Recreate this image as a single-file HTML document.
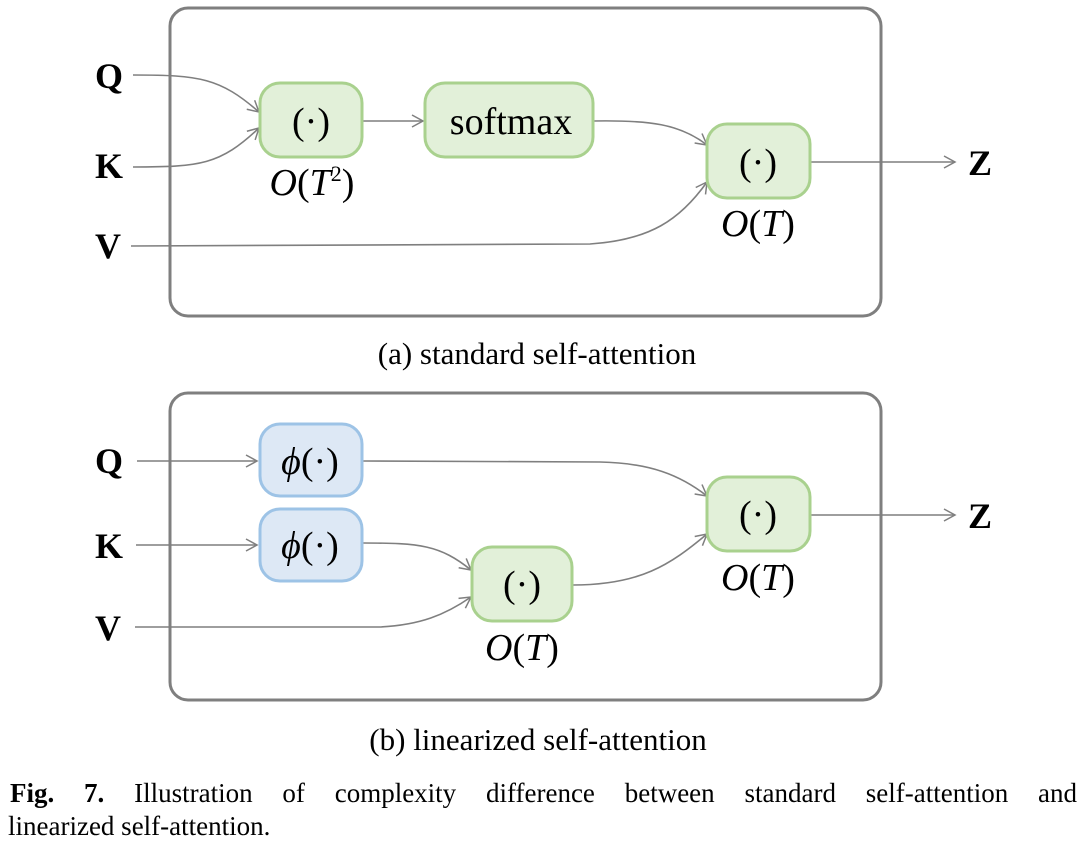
<!DOCTYPE html>
<html><head><meta charset="utf-8"><style>
html,body{margin:0;padding:0;background:#fff;}
svg{display:block;}
text{font-family:"Liberation Serif",serif;fill:#000;}
.cap{position:absolute;left:10px;width:1067px;font-family:"Liberation Serif",serif;font-size:27px;line-height:30px;color:#000;white-space:nowrap;}
.l1{top:778px;text-align:justify;text-align-last:justify;}
.l2{top:811px;left:8px;}
</style></head><body>
<div style="position:relative;width:1081px;height:844px;">
<svg width="1081" height="844" viewBox="0 0 1081 844" xmlns="http://www.w3.org/2000/svg">
<defs>
<marker id="ar" markerWidth="14" markerHeight="14" refX="12" refY="7" orient="auto" markerUnits="userSpaceOnUse">
<path d="M1,1 L12,7 L1,13" fill="none" stroke="#7f7f7f" stroke-width="1.5"/>
</marker>
</defs>
<rect x="170" y="8" width="711" height="308" rx="18" fill="none" stroke="#7f7f7f" stroke-width="3"/>
<g fill="none" stroke="#7f7f7f" stroke-width="1.6">
<path d="M133,75 C200,75 220,78 259,112" marker-end="url(#ar)"/>
<path d="M133,167 C200,167 220,165 259,128" marker-end="url(#ar)"/>
<path d="M363,121 L423,121" marker-end="url(#ar)"/>
<path d="M593,121 C650,120 680,124 707,145" marker-end="url(#ar)"/>
<path d="M131,246 L590,244 C650,240 680,220 707,182" marker-end="url(#ar)"/>
<path d="M811,162 L955,162" marker-end="url(#ar)"/>
</g>
<g stroke="#a9d18e" stroke-width="3" fill="#e2f0d9">
<rect x="260" y="83" width="102" height="74" rx="20"/>
<rect x="425" y="83" width="168" height="74" rx="20"/>
<rect x="707" y="124" width="103" height="74" rx="20"/>
</g>
<g font-size="36" font-weight="bold">
<text x="95" y="88">Q</text><text x="95" y="178">K</text><text x="95" y="258">V</text><text x="968" y="175">Z</text>
</g>
<g font-size="38">
<text x="311" y="134" text-anchor="middle">(·)</text>
<text x="511" y="134" text-anchor="middle">softmax</text>
<text x="758" y="175" text-anchor="middle">(·)</text>
<text x="312" y="195" text-anchor="middle"><tspan font-style="italic">O</tspan>(<tspan font-style="italic">T</tspan><tspan font-size="22" dy="-14">2</tspan><tspan dy="14">)</tspan></text>
<text x="758" y="236" text-anchor="middle"><tspan font-style="italic">O</tspan>(<tspan font-style="italic">T</tspan>)</text>
<text x="537" y="364" text-anchor="middle" font-size="31">(a)  standard self-attention</text>
</g>
<rect x="170" y="393" width="711" height="307" rx="18" fill="none" stroke="#7f7f7f" stroke-width="3"/>
<g fill="none" stroke="#7f7f7f" stroke-width="1.6">
<path d="M137,461 L257,461" marker-end="url(#ar)"/>
<path d="M136,545 L257,545" marker-end="url(#ar)"/>
<path d="M363,461 L600,462 C650,463 680,475 707,496" marker-end="url(#ar)"/>
<path d="M363,543 C420,543 440,545 471,570" marker-end="url(#ar)"/>
<path d="M135,627 L380,627 C420,625 445,615 471,597" marker-end="url(#ar)"/>
<path d="M573,585 C640,585 670,565 707,534" marker-end="url(#ar)"/>
<path d="M811,515 L955,515" marker-end="url(#ar)"/>
</g>
<g stroke="#9dc3e6" stroke-width="3" fill="#dde8f5">
<rect x="260" y="424" width="102" height="72" rx="20"/>
<rect x="260" y="509" width="102" height="72" rx="20"/>
</g>
<g stroke="#a9d18e" stroke-width="3" fill="#e2f0d9">
<rect x="472" y="547" width="100" height="74" rx="20"/>
<rect x="707" y="477" width="103" height="74" rx="20"/>
</g>
<g font-size="36" font-weight="bold">
<text x="95" y="473">Q</text><text x="95" y="558">K</text><text x="95" y="640">V</text><text x="968" y="528">Z</text>
</g>
<g font-size="38">
<text x="310" y="474" text-anchor="middle"><tspan font-style="italic">ϕ</tspan>(·)</text>
<text x="310" y="558" text-anchor="middle"><tspan font-style="italic">ϕ</tspan>(·)</text>
<text x="522" y="597" text-anchor="middle">(·)</text>
<text x="758" y="527" text-anchor="middle">(·)</text>
<text x="522" y="660" text-anchor="middle"><tspan font-style="italic">O</tspan>(<tspan font-style="italic">T</tspan>)</text>
<text x="758" y="590" text-anchor="middle"><tspan font-style="italic">O</tspan>(<tspan font-style="italic">T</tspan>)</text>
<text x="538" y="750" text-anchor="middle" font-size="31">(b)  linearized self-attention</text>
</g>
</svg>
<div class="cap l1"><b>Fig. 7.</b> Illustration of complexity difference between standard self-attention and</div>
<div class="cap l2">linearized self-attention.</div>
</div>
</body></html>
